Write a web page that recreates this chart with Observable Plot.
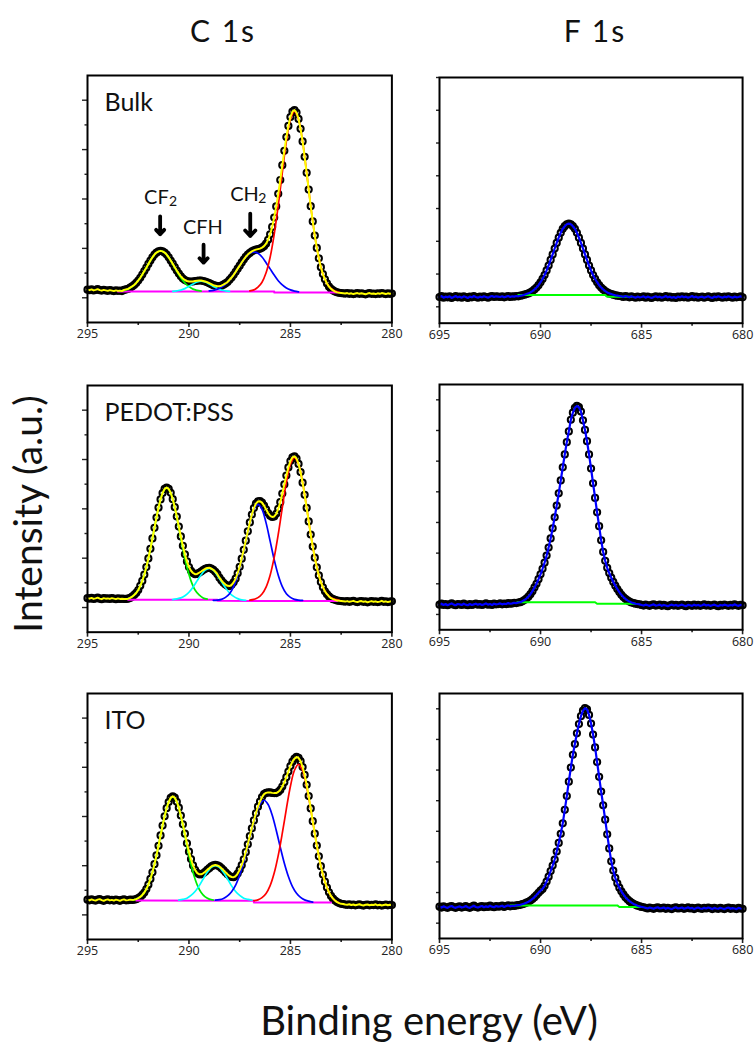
<!DOCTYPE html>
<html><head><meta charset="utf-8">
<script src="https://cdn.jsdelivr.net/npm/d3@7"></script>
<script src="https://cdn.jsdelivr.net/npm/@observablehq/plot@0.6"></script>
<style>
body{margin:0;background:#fff;}
#fig{position:relative;width:755px;height:1045px;overflow:hidden;background:#fff;}
#fig svg.panel{position:absolute;}
#overlay{position:absolute;left:0;top:0;pointer-events:none;}
</style></head><body><div id="fig"></div>
<script>
// ---------- measured spectra: intensity (a.u.) sampled every 0.1 eV ----------
const cStart = 295, fStart = 695, step = 0.1;
const bulkC = [
.33,.31,.34,.30,.32,.35,.31,.29,.32,.30,
.28,.31,.29,.27,.30,.28,.29,.27,.32,.34,
.36,.41,.46,.52,.60,.70,.81,.94,1.08,1.22,
1.37,1.51,1.64,1.75,1.83,1.88,1.90,1.88,1.83,1.75,
1.64,1.51,1.38,1.24,1.10,.98,.87,.78,.72,.68,
.66,.66,.66,.68,.69,.70,.70,.68,.66,.63,
.59,.55,.51,.49,.47,.47,.49,.53,.58,.64,
.73,.82,.93,1.05,1.18,1.30,1.43,1.55,1.66,1.75,
1.82,1.88,1.92,1.95,1.97,1.99,2.03,2.09,2.19,2.35,
2.57,2.87,3.25,3.70,4.21,4.77,5.37,5.95,6.51,6.96,
7.32,7.54,7.60,7.50,7.24,6.84,6.33,5.71,5.06,4.38,
3.71,3.09,2.52,2.02,1.60,1.24,.96,.75,.58,.45,
.36,.30,.25,.22,.20,.19,.18,.17,.19,.16,
.18,.15,.17,.19,.16,.18,.16,.14,.17,.19,
.16,.17,.15,.18,.16,.19,.17,.15,.18,.16,
.17];
const pedotC = [
.38,.36,.39,.35,.37,.40,.36,.34,.38,.36,
.37,.35,.38,.36,.34,.37,.35,.36,.35,.35,
.36,.39,.44,.51,.59,.71,.88,1.08,1.33,1.64,
1.99,2.38,2.80,3.23,3.65,4.05,4.38,4.64,4.81,4.86,
4.81,4.65,4.39,4.07,3.69,3.28,2.88,2.50,2.16,1.87,
1.64,1.49,1.40,1.35,1.36,1.41,1.46,1.52,1.57,1.60,
1.61,1.58,1.53,1.45,1.35,1.21,1.10,1.00,.93,.88,
.87,.92,1.02,1.17,1.39,1.65,1.98,2.34,2.71,3.09,
3.45,3.77,4.03,4.21,4.30,4.31,4.25,4.13,3.98,3.83,
3.72,3.67,3.69,3.80,4.00,4.27,4.62,4.99,5.35,5.68,
5.94,6.09,6.13,6.04,5.82,5.49,5.06,4.57,4.04,3.49,
2.96,2.47,2.02,1.63,1.30,1.03,.82,.66,.54,.45,
.38,.34,.31,.28,.27,.26,.25,.24,.26,.23,
.25,.27,.24,.22,.25,.26,.23,.25,.21,.24,
.26,.23,.25,.22,.24,.27,.23,.25,.22,.24,
.25];
const itoC = [
.62,.59,.63,.60,.58,.62,.64,.60,.57,.61,
.63,.59,.61,.58,.62,.60,.57,.61,.63,.59,
.60,.62,.61,.62,.64,.68,.73,.81,.91,1.05,
1.23,1.46,1.73,2.06,2.42,2.81,3.23,3.63,4.01,4.34,
4.59,4.76,4.82,4.77,4.60,4.36,4.04,3.68,3.30,2.91,
2.57,2.27,2.01,1.83,1.71,1.65,1.65,1.69,1.75,1.83,
1.90,1.97,2.01,2.03,2.01,1.97,1.90,1.82,1.73,1.65,
1.58,1.54,1.53,1.58,1.68,1.83,2.02,2.26,2.55,2.87,
3.20,3.52,3.84,4.13,4.40,4.61,4.79,4.91,4.96,4.98,
4.98,4.96,4.95,4.95,5.00,5.08,5.22,5.39,5.60,5.83,
6.05,6.23,6.35,6.42,6.38,6.25,6.01,5.69,5.29,4.83,
4.33,3.81,3.30,2.82,2.38,1.98,1.64,1.35,1.11,.92,
.77,.66,.58,.52,.48,.45,.44,.42,.41,.43,
.40,.42,.39,.41,.43,.40,.38,.41,.42,.39,
.41,.40,.43,.39,.41,.38,.40,.42,.39,.41,
.40];
const bulkF = [
.30,.33,.28,.31,.29,.32,.27,.30,.33,.29,
.31,.28,.32,.30,.27,.31,.29,.33,.30,.28,
.31,.29,.32,.30,.28,.31,.33,.30,.32,.31,
.30,.32,.29,.31,.33,.30,.32,.31,.33,.32,
.34,.35,.37,.39,.41,.44,.48,.53,.59,.66,
.75,.85,.97,1.11,1.26,1.43,1.60,1.78,1.95,2.11,
2.26,2.38,2.46,2.52,2.54,2.52,2.46,2.38,2.26,2.11,
1.95,1.78,1.60,1.43,1.26,1.11,.97,.85,.75,.66,
.59,.53,.48,.44,.41,.39,.37,.35,.34,.33,
.32,.30,.33,.31,.29,.32,.30,.28,.31,.29,
.30,.32,.28,.31,.29,.27,.30,.32,.29,.31,
.28,.30,.33,.29,.31,.28,.30,.27,.31,.29,
.32,.29,.31,.28,.30,.33,.29,.31,.28,.30,
.31,.28,.30,.32,.29,.27,.31,.29,.32,.30,
.28,.31,.29,.32,.30,.28,.31,.29,.30,.32,
.29];
const pedotF = [
.32,.35,.31,.34,.30,.33,.36,.32,.30,.34,
.33,.31,.35,.32,.30,.34,.31,.33,.35,.32,
.34,.31,.33,.36,.32,.34,.31,.35,.33,.34,
.36,.33,.35,.34,.37,.35,.36,.38,.37,.39,
.40,.43,.47,.52,.58,.66,.76,.88,1.00,1.15,
1.31,1.49,1.69,1.92,2.18,2.48,2.81,3.17,3.55,3.95,
4.37,4.80,5.22,5.62,5.97,6.35,6.58,6.74,6.80,6.76,
6.62,6.33,6.02,5.65,5.22,4.76,4.28,3.80,3.33,2.88,
2.42,2.04,1.75,1.52,1.35,1.20,1.06,.94,.83,.73,
.64,.57,.51,.46,.42,.39,.37,.35,.34,.33,
.31,.29,.32,.30,.28,.31,.33,.29,.30,.32,
.28,.31,.29,.27,.30,.32,.29,.31,.28,.30,
.32,.29,.27,.31,.30,.28,.32,.29,.31,.28,
.30,.33,.29,.31,.28,.30,.32,.29,.27,.31,
.29,.32,.30,.28,.31,.29,.33,.30,.28,.31,
.30];
const itoF = [
.54,.51,.55,.52,.50,.54,.56,.52,.50,.53,
.55,.51,.53,.56,.52,.50,.54,.57,.53,.51,
.54,.56,.52,.55,.53,.57,.54,.52,.56,.54,
.55,.57,.53,.56,.58,.55,.57,.56,.58,.59,
.60,.62,.64,.67,.70,.74,.79,.85,.92,.99,
1.06,1.12,1.22,1.36,1.52,1.70,1.88,2.08,2.34,2.62,
2.92,3.26,3.70,4.15,4.62,5.08,5.50,5.85,6.20,6.50,
6.76,6.94,7.02,6.98,6.80,6.52,6.16,5.74,5.26,4.78,
4.30,3.85,3.38,2.90,2.44,2.02,1.72,1.48,1.30,1.16,
1.04,.94,.85,.78,.72,.67,.63,.60,.57,.55,
.53,.52,.50,.48,.51,.49,.47,.50,.52,.48,
.49,.51,.47,.50,.48,.46,.50,.52,.48,.49,
.51,.47,.49,.52,.48,.50,.46,.49,.51,.48,
.47,.50,.48,.51,.49,.46,.50,.48,.47,.50,
.48,.46,.49,.51,.47,.49,.48,.46,.50,.48,
.47];

// ---------- fitted C 1s components (sampled every 0.2 eV from a start energy) ----------
const compStep = 0.2;
const bulkGreenStart = 293.4, bulkGreen = [.27,.30,.35,.45,.60,.81,1.08,1.37,1.64,1.83,1.90,1.83,1.64,1.37,1.08,.81,.60,.45,.35,.30,.27];
const bulkCyanStart = 290.8, bulkCyan = [.26,.28,.31,.37,.46,.56,.64,.67,.64,.56,.46,.37,.31,.28,.26];
const bulkBlueStart = 289.0, bulkBlue = [.28,.30,.35,.43,.55,.72,.93,1.18,1.43,1.65,1.80,1.85,1.80,1.65,1.42,1.17,.92,.69,.52,.40,.32,.27,.24];
const bulkRedStart = 287.0, bulkRed = [.28,.32,.43,.63,1.01,1.64,2.57,3.74,5.07,6.33,7.22,7.55,7.22,6.33,5.07,3.71,2.52,1.60,.96,.58,.38,.27,.22];

const pedotGreenStart = 293.1, pedotGreen = [.34,.39,.51,.71,1.08,1.64,2.38,3.23,4.05,4.64,4.86,4.64,4.05,3.23,2.38,1.64,1.08,.71,.51,.39,.34];
const pedotCyanStart = 290.8, pedotCyan = [.32,.35,.39,.48,.62,.83,1.08,1.33,1.52,1.59,1.52,1.30,1.05,.80,.59,.45,.36,.31,.29];
const pedotBlueStart = 288.8, pedotBlue = [.29,.30,.33,.41,.56,.85,1.31,1.94,2.69,3.43,3.98,4.18,3.98,3.43,2.69,1.94,1.31,.85,.56,.41,.33,.30,.29];
const pedotRedStart = 287.0, pedotRed = [.30,.33,.40,.55,.83,1.31,2.03,2.97,4.05,5.07,5.81,6.08,5.81,5.07,4.05,2.97,2.03,1.31,.83,.55,.40,.33,.30];

const itoGreenStart = 292.8, itoGreen = [.60,.64,.73,.91,1.23,1.73,2.42,3.23,4.01,4.59,4.81,4.59,4.01,3.23,2.42,1.73,1.23,.91,.73,.64,.60];
const itoCyanStart = 290.5, itoCyan = [.60,.63,.68,.79,.95,1.18,1.46,1.73,1.93,2.00,1.93,1.73,1.46,1.18,.95,.79,.68,.63,.60];
const itoBlueStart = 288.7, itoBlue = [.60,.62,.67,.77,.94,1.21,1.62,2.16,2.81,3.48,4.08,4.50,4.66,4.49,4.06,3.44,2.75,2.10,1.56,1.15,.88,.71,.61,.56,.52];
const itoRedStart = 286.8, itoRed = [.58,.61,.70,.87,1.19,1.70,2.42,3.32,4.31,5.23,5.88,6.12,5.87,5.21,4.30,3.30,2.38,1.64,1.11,.77,.58,.48];

// ---------- backgrounds ----------
const bulkBaseE = [293.5, 285.8, 285.8, 282.7], bulkBaseI = [0.25, 0.25, 0.21, 0.21];
const pedotBaseE = [293.0, 288.6, 288.6, 282.7], pedotBaseI = [0.31, 0.31, 0.27, 0.26];
const itoBaseE = [292.6, 286.8, 286.8, 283.0], itoBaseI = [0.58, 0.57, 0.50, 0.50];
const bulkFBaseE = [691.1, 686.8, 686.7, 685.5], bulkFBaseI = [0.36, 0.36, 0.31, 0.31];
const pedotFBaseE = [691.15, 687.3, 687.2, 685.3], pedotFBaseI = [0.40, 0.40, 0.35, 0.35];
const itoFBaseE = [691.5, 686.2, 686.1, 685.0], itoFBaseI = [0.58, 0.58, 0.53, 0.53];

// ---------- annotations (Bulk C 1s) ----------
const noteMain = ["CF", "CFH", "CH"], noteLeftE = [292.21, 290.30, 287.97], noteBaseI = [3.80, 2.59, 3.93];
const noteSub = ["2", "2"], noteSubE = [290.98, 286.58], noteSubI = [3.70, 3.83];
const arrowE = [291.42, 289.28, 286.98], arrowFromI = [3.30, 2.15, 3.41], arrowToI = [2.57, 1.42, 2.50];

// ---------- axes / labels ----------
const cTicks = [295, 290, 285, 280], cMinor = [292.5, 287.5, 282.5];
const fTicks = [695, 690, 685, 680], fMinor = [692.5, 687.5, 682.5];
const sampleNames = ["Bulk", "PEDOT:PSS", "ITO"];
const columnTitles = ["C 1s", "F 1s"];
const xTitle = "Binding energy (eV)", yTitle = "Intensity (a.u.)";

// ---------- build tables ----------
const grid = (start, n, s) => d3.range(n).map(i => +(start - i * s).toFixed(2));
const rows = (es, vs) => es.map((e, i) => ({e, v: vs[i]}));
const spec = (start, vs) => rows(grid(start, vs.length, step), vs);
const comp = (start, vs) => rows(grid(start, vs.length, compStep), vs);

const GREEN = "#00ee00", CYAN = "#00ffff", BLUE = "#0000ff", RED = "#ff0000", MAGENTA = "#ff00ff", YELLOW = "#ffff00";

const panels = [
  {name: sampleNames[0], frame: [87.3, 75, 304.4, 247], xd: [295, 280], yd: [-1, 9], major: cTicks, minor: cMinor, c: true,
   data: spec(cStart, bulkC), base: rows(bulkBaseE, bulkBaseI),
   comps: [[comp(bulkGreenStart, bulkGreen), GREEN], [comp(bulkCyanStart, bulkCyan), CYAN], [comp(bulkBlueStart, bulkBlue), BLUE], [comp(bulkRedStart, bulkRed), RED]], notes: true},
  {name: null, frame: [438.6, 77.3, 303.1, 245.7], xd: [695, 680], yd: [-0.5, 7], major: fTicks, minor: fMinor, c: false,
   data: spec(fStart, bulkF), base: rows(bulkFBaseE, bulkFBaseI), comps: []},
  {name: sampleNames[1], frame: [87.3, 385, 304.4, 246.7], xd: [295, 280], yd: [-1, 9], major: cTicks, minor: cMinor, c: true,
   data: spec(cStart, pedotC), base: rows(pedotBaseE, pedotBaseI),
   comps: [[comp(pedotGreenStart, pedotGreen), GREEN], [comp(pedotCyanStart, pedotCyan), CYAN], [comp(pedotBlueStart, pedotBlue), BLUE], [comp(pedotRedStart, pedotRed), RED]]},
  {name: null, frame: [438.6, 384, 303.1, 245.3], xd: [695, 680], yd: [-0.5, 7.5], major: fTicks, minor: fMinor, c: false,
   data: spec(fStart, pedotF), base: rows(pedotFBaseE, pedotFBaseI), comps: []},
  {name: sampleNames[2], frame: [87.3, 693.3, 304.4, 246], xd: [295, 280], yd: [-1, 9], major: cTicks, minor: cMinor, c: true,
   data: spec(cStart, itoC), base: rows(itoBaseE, itoBaseI),
   comps: [[comp(itoGreenStart, itoGreen), GREEN], [comp(itoCyanStart, itoCyan), CYAN], [comp(itoBlueStart, itoBlue), BLUE], [comp(itoRedStart, itoRed), RED]]},
  {name: null, frame: [438.6, 693.3, 303.1, 245], xd: [695, 680], yd: [-0.5, 7.5], major: fTicks, minor: fMinor, c: false,
   data: spec(fStart, itoF), base: rows(itoFBaseE, itoFBaseI), comps: []}
];

const fig = document.getElementById("fig");
const ml = 22, mr = 16, mt = 4, mb = 26;
const labelFont = "Lato, 'Noto Sans', 'DejaVu Sans', sans-serif";

for (const p of panels) {
  const [fx, fy, fw, fh] = p.frame;
  const yTop = Math.floor(p.yd[1]);
  const yMajor = p.c ? [0, 2, 4, 6, 8] : d3.range(0, yTop + 1);
  const yMinor = p.c ? [1, 3, 5, 7] : [];
  const marks = [
    Plot.dot(p.data, {x: "e", y: "v", r: 3.1, stroke: "black", strokeWidth: 2, fill: "none"}),
    Plot.line(p.base, {x: "e", y: "v", stroke: p.c ? MAGENTA : "#00ff00", strokeWidth: 2})
  ];
  for (const [cd, col] of p.comps) marks.push(Plot.line(cd, {x: "e", y: "v", stroke: col, strokeWidth: 1.7, curve: "catmull-rom"}));
  marks.push(Plot.line(p.data, {x: "e", y: "v", stroke: p.c ? YELLOW : BLUE, strokeWidth: p.c ? 2 : 2.2}));
  marks.push(
    Plot.axisX({ticks: p.major, tickSize: 5, tickPadding: 2, strokeWidth: 1.6, fontSize: 12.5, label: null, tickFormat: d => String(d), fill: "#222"}),
    Plot.axisX({ticks: p.minor, tickSize: 3, strokeWidth: 1.6, label: null, tickFormat: () => ""}),
    Plot.axisY({ticks: yMajor, tickSize: p.c ? 5 : 3, strokeWidth: 1.4, label: null, tickFormat: () => ""}),
    Plot.frame({stroke: "black", strokeWidth: 2})
  );
  if (yMinor.length) marks.push(Plot.axisY({ticks: yMinor, tickSize: 2.5, strokeWidth: 1.4, label: null, tickFormat: () => ""}));
  if (p.name) marks.push(Plot.text([p.name], {frameAnchor: "top-left", text: d => d, dx: 17, dy: 18, lineAnchor: "top", textAnchor: "start", fontSize: 25, fontFamily: labelFont, fill: "#111"}));
  if (p.notes) {
    const nm = noteMain.map((t, i) => ({t, e: noteLeftE[i], v: noteBaseI[i]}));
    const nsub = noteSub.map((t, i) => ({t, e: noteSubE[i], v: noteSubI[i]}));
    const ar = arrowE.map((e, i) => ({e, a: arrowFromI[i], b: arrowToI[i]}));
    marks.push(
      Plot.text(nm, {x: "e", y: "v", text: "t", textAnchor: "start", lineAnchor: "bottom", fontSize: 20, fontFamily: labelFont, fill: "#111"}),
      Plot.text(nsub, {x: "e", y: "v", text: "t", textAnchor: "start", lineAnchor: "bottom", fontSize: 14, fontFamily: labelFont, fill: "#111"}),
      Plot.arrow(ar, {x1: "e", x2: "e", y1: "a", y2: "b", stroke: "black", strokeWidth: 3.8, headLength: 11, headAngle: 85})
    );
  }
  const svg = Plot.plot({
    width: ml + fw + mr, height: mt + fh + mb,
    marginLeft: ml, marginRight: mr, marginTop: mt, marginBottom: mb,
    x: {domain: p.xd}, y: {domain: p.yd},
    style: {fontFamily: "'Open Sans', 'DejaVu Sans', sans-serif", fontSize: "12.5px", color: "#222", background: "none", overflow: "visible"},
    marks
  });
  svg.classList.add("panel");
  svg.style.left = (fx - ml) + "px";
  svg.style.top = (fy - mt) + "px";
  svg.style.position = "absolute";
  fig.appendChild(svg);
}

// ---------- titles and axis labels ----------
const ns = "http://www.w3.org/2000/svg";
const ov = document.createElementNS(ns, "svg");
ov.setAttribute("id", "overlay");
ov.setAttribute("width", 755); ov.setAttribute("height", 1045);
function addText(str, x, y, size, opts = {}) {
  const t = document.createElementNS(ns, "text");
  t.textContent = str;
  t.setAttribute("x", x); t.setAttribute("y", y);
  t.setAttribute("font-size", size);
  t.setAttribute("font-family", labelFont);
  t.setAttribute("text-anchor", "middle");
  t.setAttribute("fill", "#111");
  if (opts.ls) t.setAttribute("letter-spacing", opts.ls);
  if (opts.rot) t.setAttribute("transform", `rotate(${opts.rot} ${x} ${y})`);
  ov.appendChild(t);
}
addText(columnTitles[0], 223, 41.7, 30, {ls: 2});
addText(columnTitles[1], 595, 41.7, 30, {ls: 2});
addText(yTitle, 41.5, 514, 39, {rot: -90});
addText(xTitle, 429, 1035, 40);
fig.appendChild(ov);
</script></body></html>
